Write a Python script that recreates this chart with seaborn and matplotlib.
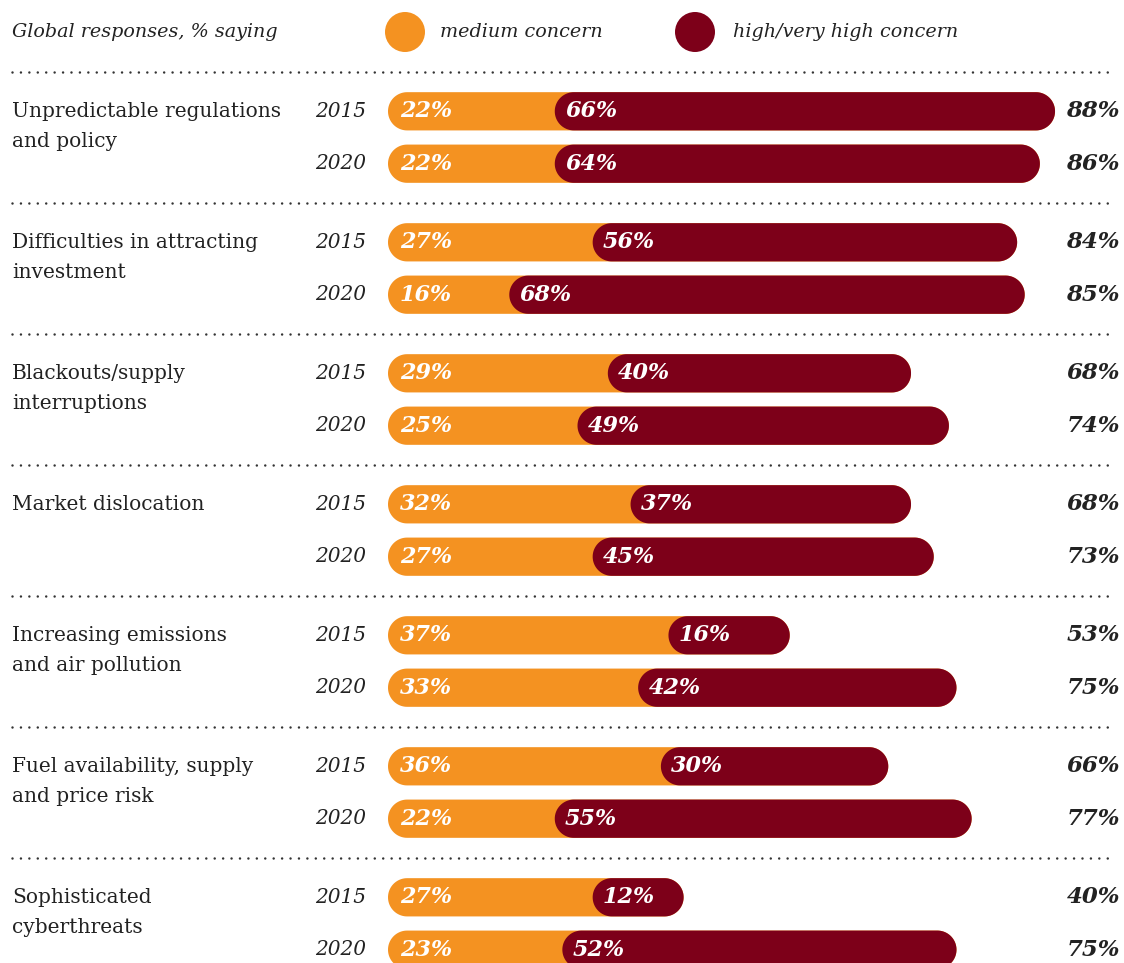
import numpy as np
import pandas as pd
import seaborn as sns
import matplotlib.pyplot as plt
from matplotlib.patches import Circle, Rectangle, Polygon
from matplotlib.transforms import blended_transform_factory
from matplotlib.lines import Line2D

# ---------------- data ----------------
categories = [
    "Unpredictable regulations\nand policy",
    "Difficulties in attracting\ninvestment",
    "Blackouts/supply\ninterruptions",
    "Market dislocation",
    "Increasing emissions\nand air pollution",
    "Fuel availability, supply\nand price risk",
    "Sophisticated\ncyberthreats",
]
years = ["2015", "2020"]
medium_2015 = [22, 27, 29, 32, 37, 36, 27]
high_2015 = [66, 56, 40, 37, 16, 30, 12]
total_2015 = [88, 84, 68, 68, 53, 66, 40]
medium_2020 = [22, 16, 25, 27, 33, 22, 23]
high_2020 = [64, 68, 49, 45, 42, 55, 52]
total_2020 = [86, 85, 74, 73, 75, 77, 75]

header_text = "Global responses, % saying"
legend_labels = ["medium concern", "high/very high concern"]

ORANGE = "#F49221"
RED = "#7D0019"
TXT = "#222222"

rows = []
for i, c in enumerate(categories):
    rows.append(dict(category=c, year=years[0], medium=medium_2015[i], high=high_2015[i], total=total_2015[i]))
    rows.append(dict(category=c, year=years[1], medium=medium_2020[i], high=high_2020[i], total=total_2020[i]))
df = pd.DataFrame(rows)
df["end"] = df["medium"] + df["high"]

# ---------------- figure ----------------
W, H, DPI = 1124, 963, 100
sns.set_theme(style="white")
plt.rcParams["font.family"] = ["DejaVu Serif"]
fig = plt.figure(figsize=(W / DPI, H / DPI), dpi=DPI)

ax_left_px, ax_right_px = 388, 1124
ax_top_px, ax_bot_px = 73, 963
ax = fig.add_axes([ax_left_px / W, 1 - ax_bot_px / H,
                   (ax_right_px - ax_left_px) / W, (ax_bot_px - ax_top_px) / H])

sns.barplot(data=df, y="category", x="end", hue="year", orient="h",
            palette=[ORANGE, ORANGE], saturation=1, width=0.8, gap=0.27,
            errorbar=None, legend=False, ax=ax)
n_orange = len(ax.patches)
sns.barplot(data=df, y="category", x="end", hue="year", orient="h",
            palette=[RED, RED], saturation=1, width=0.8, gap=0.27,
            errorbar=None, legend=False, ax=ax)

px_per_pct = 7.58
xmax = (ax_right_px - ax_left_px) / px_per_pct
ax.set_xlim(0, xmax)
ax.set_ylim(6 + (963 - 923.5) / 131, -(137.5 - 73) / 131)
ax.axis("off")

fig.canvas.draw()
p0 = ax.transData.transform((0, 0))
p1 = ax.transData.transform((1, 1))
xpx = abs(p1[0] - p0[0])
ypx = abs(p1[1] - p0[1])


def row_of(yc):
    ci = int(round(yc))
    yi = 0 if yc < ci else 1
    return ci, yi


def pill(x, y, w, h, color, z):
    """Rounded (stadium) bar in data coords with true semicircular ends."""
    yc = y + h / 2
    ry = h / 2
    rx = (h * ypx / 2) / xpx
    rx = min(rx, w / 2)
    t1 = np.linspace(-np.pi / 2, np.pi / 2, 40)
    t2 = np.linspace(np.pi / 2, 3 * np.pi / 2, 40)
    xr = x + w - rx + rx * np.cos(t1)
    yr = yc + ry * np.sin(t1)
    xl = x + rx + rx * np.cos(t2)
    yl = yc + ry * np.sin(t2)
    pts = np.column_stack([np.concatenate([xr, xl]), np.concatenate([yr, yl])])
    return Polygon(pts, closed=True, facecolor=color, edgecolor="none",
                   zorder=z, antialiased=True)


patches = list(ax.patches)
for k, p in enumerate(patches):
    if not isinstance(p, Rectangle):
        continue
    x, y, w, h = p.get_x(), p.get_y(), p.get_width(), p.get_height()
    if h < 0:
        y, h = y + h, -h
    if w < 0:
        x, w = x + w, -w
    if w == 0:
        p.remove()
        continue
    yc = y + h / 2
    ci, yi = row_of(yc)
    rec = df[(df.category == categories[ci]) & (df.year == years[yi])].iloc[0]
    if k >= n_orange:
        x = rec["medium"]
        w = rec["end"] - rec["medium"]
        z = 3
    else:
        z = 2
    col = p.get_facecolor()
    p.remove()
    ax.add_patch(pill(x, y, w, h, col, z))

# ---------------- labels ----------------
figx = blended_transform_factory(fig.transFigure, ax.transData)
pct_font = dict(fontsize=16, fontweight="bold", fontstyle="italic",
                color="white", va="center", zorder=5)
for i, c in enumerate(categories):
    for j, yr in enumerate(years):
        rec = df[(df.category == c) & (df.year == yr)].iloc[0]
        yc = i + (-0.2 if j == 0 else 0.2)
        ax.annotate(f"{rec['medium']}%", (0, yc), xytext=(8.6, 0),
                    textcoords="offset points", **pct_font)
        ax.annotate(f"{rec['high']}%", (rec["medium"], yc), xytext=(7.4, 0),
                    textcoords="offset points", **pct_font)
        ax.text(1120 / W, yc, f"{rec['total']}%", transform=figx,
                ha="right", va="center", fontsize=16.5, fontweight="bold",
                fontstyle="italic", color=TXT, clip_on=False)
        ax.text(366 / W, yc, yr, transform=figx, ha="right", va="center",
                fontsize=14.5, fontstyle="italic", color=TXT, clip_on=False)
    ax.text(12 / W, i - 0.2 - 0.07, c, transform=figx, ha="left", va="top",
            fontsize=14.5, color=TXT, linespacing=1.72, clip_on=False)

# dotted separators
for i in range(len(categories)):
    ax.add_line(Line2D([12 / W, 1115 / W], [i - 0.5, i - 0.5], transform=figx,
                       color="#333333", lw=1.8, linestyle=(0, (0.01, 3.36)),
                       dash_capstyle="round", clip_on=False))

# header / legend
hy = 1 - 32 / H
fig.text(12 / W, hy, header_text, ha="left", va="center", fontsize=13.8,
         fontstyle="italic", color=TXT)
for cx, col, tx, lab in [(405, ORANGE, 440, legend_labels[0]),
                         (695, RED, 733, legend_labels[1])]:
    fig.patches.append(Circle((cx, H - 32), 20, transform=None,
                              facecolor=col, edgecolor="none"))
    fig.text(tx / W, hy, lab, ha="left", va="center", fontsize=13.8,
             fontstyle="italic", color=TXT)

fig.savefig("out.png", dpi=DPI)
